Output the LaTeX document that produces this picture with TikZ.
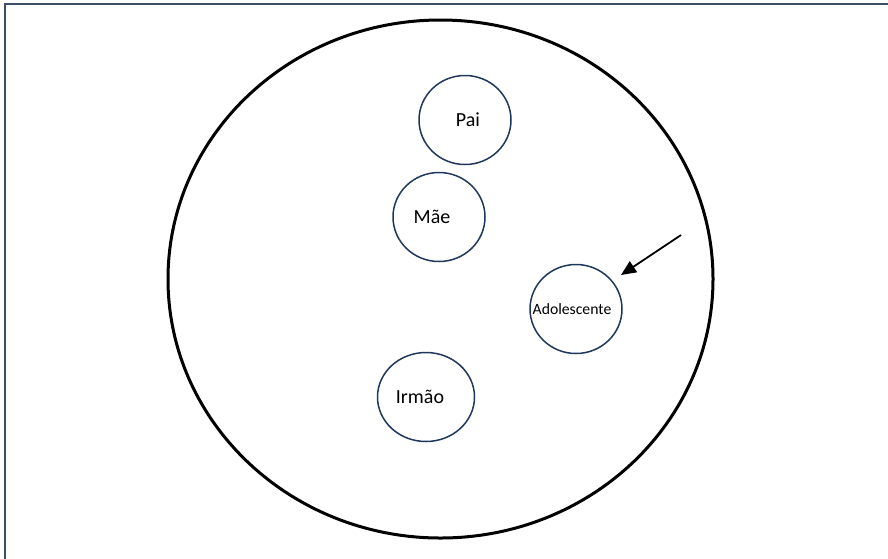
\documentclass[tikz,border=0pt]{standalone}
\usepackage{fontspec}
\setmainfont{Carlito}
\usetikzlibrary{shapes.geometric,arrows.meta}
\definecolor{framecol}{RGB}{60,78,102}
\definecolor{ringcol}{RGB}{31,56,92}
% text of zero width, moved sideways by #1 and down by #2
\newcommand{\placedtext}[3]{\makebox[0pt][c]{\hspace*{#1}\raisebox{#2}{#3}}}
\tikzset{
  member/.style={ellipse, draw=ringcol, line width=1.5pt, minimum width=92pt,
    minimum height=89pt, inner sep=0pt, font=\fontsize{20}{24}\selectfont},
  smallmember/.style={member, font=\fontsize{15.7}{19}\selectfont},
  pointer/.style={draw=black, line width=1.8pt, -{Triangle[length=15pt,width=13pt]}}
}
\begin{document}
\begin{tikzpicture}[x=1pt,y=-1pt]
  \clip (0,0) rectangle (888,558);
  \fill[white] (0,0) rectangle (888,558);
  % outer frame (continues past the right and bottom edges)
  \draw[framecol, line width=2pt] (5,4) rectangle (920,600);
  % family circle
  \draw[black, line width=3pt] (440.5,279) ellipse [x radius=272.5, y radius=259];
  % members
  \node[member] (pai) at (465,120) {\placedtext{6pt}{-5pt}{Pai}};
  \node[member] (mae) at (439,217) {\placedtext{-14pt}{0pt}{Mãe}};
  \node[smallmember] (ado) at (576,309) {\placedtext{-8pt}{0pt}{Adolescente}};
  \node[member, minimum width=97pt] (irmao) at (426,397) {\placedtext{-12pt}{0pt}{Irmão}};
  % pointer towards the adolescent
  \coordinate (arrowstart) at (681,235);
  \coordinate (arrowtip) at (621,275);
  \draw[pointer] (arrowstart) -- (arrowtip);
\end{tikzpicture}
\end{document}
